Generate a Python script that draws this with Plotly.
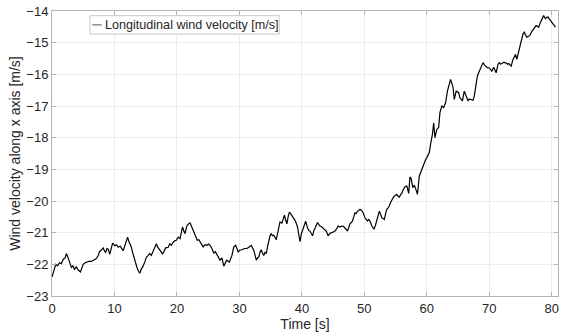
import plotly.graph_objects as go

# Time axis [s] and longitudinal wind velocity [m/s]
time_s = [
    0.0, 0.3, 0.6, 0.9, 1.2, 1.5, 1.8, 2.1, 2.3, 2.5, 2.75, 3.1, 3.35, 3.6, 3.9, 4.2, 4.55, 4.8,
    5.0, 5.3, 5.6, 6.0, 6.3, 6.7, 7.1, 7.4, 7.6, 7.9, 8.2, 8.4, 8.6, 8.8, 9.0, 9.25, 9.5, 9.7,
    10.05, 10.3, 10.6, 10.9, 11.1, 11.4, 11.6, 11.8, 12.1, 12.3, 12.45, 12.7, 12.9, 13.1, 13.3,
    13.6, 13.85, 14.05, 14.3, 14.6, 14.9, 15.1, 15.4, 15.65, 15.9, 16.2, 16.5, 16.7, 16.9, 17.2,
    17.45, 17.7, 17.95, 18.2, 18.6, 18.86, 19.1, 19.4, 19.7, 19.9, 20.2, 20.5, 20.7, 20.9, 21.1,
    21.3, 21.5, 21.64, 21.9, 22.1, 22.3, 22.5, 22.7, 22.9, 23.1, 23.25, 23.5, 23.7, 23.95, 24.2,
    24.5, 24.8, 25.05, 25.3, 25.6, 25.9, 26.15, 26.4, 26.65, 26.9, 27.2, 27.5, 27.75, 27.96,
    28.2, 28.4, 28.6, 28.8, 29.1, 29.4, 29.6, 29.8, 30.1, 30.4, 30.8, 31.2, 31.5, 31.9, 32.1,
    32.3, 32.5, 32.7, 32.9, 33.1, 33.3, 33.5, 33.7, 33.9, 34.1, 34.3, 34.5, 34.7, 34.9, 35.1,
    35.3, 35.5, 35.7, 35.9, 36.1, 36.3, 36.5, 36.8, 37.0, 37.2, 37.4, 37.6, 37.8, 38.0, 38.2,
    38.4, 38.65, 38.9, 39.1, 39.3, 39.5, 39.7, 39.9, 40.2, 40.4, 40.6, 40.9, 41.1, 41.3, 41.5,
    41.7, 41.9, 42.1, 42.3, 42.5, 42.7, 42.9, 43.2, 43.4, 43.65, 43.9, 44.2, 44.5, 44.8, 45.05,
    45.3, 45.55, 45.8, 46.1, 46.4, 46.65, 46.9, 47.1, 47.3, 47.5, 47.7, 47.9, 48.1, 48.3, 48.5,
    48.7, 48.9, 49.1, 49.3, 49.55, 49.8, 50.1, 50.3, 50.5, 50.7, 50.9, 51.2, 51.55, 51.8, 52.0,
    52.2, 52.4, 52.6, 52.8, 53.0, 53.2, 53.4, 53.6, 53.8, 54.0, 54.2, 54.4, 54.6, 54.8, 55.0,
    55.2, 55.4, 55.6, 55.8, 56.0, 56.2, 56.5, 56.8, 57.1, 57.3, 57.5, 57.75, 58.0, 58.2, 58.5,
    58.8, 59.0, 59.2, 59.4, 59.6, 59.8, 60.0, 60.2, 60.4, 60.6, 60.9, 61.1, 61.3, 61.6, 61.9,
    62.1, 62.4, 62.7, 63.0, 63.3, 63.6, 63.8, 64.0, 64.2, 64.4, 64.7, 64.9, 65.1, 65.3, 65.5,
    65.7, 66.0, 66.3, 66.6, 66.8, 67.0, 67.2, 67.4, 67.6, 67.9, 68.1, 68.3, 68.5, 68.7, 69.0,
    69.2, 69.4, 69.7, 70.0, 70.2, 70.4, 70.7, 70.9, 71.1, 71.4, 71.6, 71.8, 72.0, 72.3, 72.6,
    72.9, 73.1, 73.3, 73.5, 73.8, 74.0, 74.2, 74.4, 74.7, 74.9, 75.1, 75.2, 75.4, 75.6, 75.8,
    76.0, 76.3, 76.5, 76.8, 77.1, 77.3, 77.5, 77.7, 77.9, 78.1, 78.3, 78.5, 78.7, 78.85, 79.0,
    79.2, 79.4, 79.6, 79.8, 80.0, 80.1, 80.3, 80.6,
]
wind_velocity = [
    -22.40, -22.15, -22.00, -22.05, -21.95, -21.98, -21.84, -21.80, -21.66, -21.75, -21.92, -22.10,
    -22.05, -22.16, -22.08, -22.18, -22.24, -22.12, -22.00, -21.95, -21.92, -21.90, -21.91, -21.86,
    -21.82, -21.72, -21.60, -21.55, -21.48, -21.58, -21.62, -21.50, -21.52, -21.68, -21.45, -21.33,
    -21.41, -21.38, -21.46, -21.42, -21.48, -21.57, -21.45, -21.32, -21.14, -21.28, -21.33, -21.45,
    -21.62, -21.78, -21.92, -22.10, -22.22, -22.28, -22.15, -22.05, -21.90, -21.78, -21.72, -21.66,
    -21.72, -21.60, -21.45, -21.35, -21.45, -21.52, -21.60, -21.68, -21.55, -21.48, -21.46, -21.35,
    -21.40, -21.30, -21.25, -21.24, -21.14, -21.19, -21.00, -20.82, -20.95, -21.03, -20.85, -20.77,
    -20.72, -20.69, -20.78, -20.87, -20.98, -21.03, -21.15, -21.24, -21.22, -21.29, -21.38, -21.45,
    -21.38, -21.40, -21.36, -21.40, -21.50, -21.64, -21.60, -21.72, -21.78, -21.87, -21.80, -22.06,
    -21.95, -21.87, -21.90, -21.93, -21.82, -21.72, -21.45, -21.40, -21.50, -21.61, -21.55, -21.54,
    -21.50, -21.50, -21.46, -21.40, -21.48, -21.56, -21.70, -21.87, -21.80, -21.77, -21.62, -21.54,
    -21.65, -21.72, -21.62, -21.66, -21.45, -21.24, -21.10, -21.03, -21.10, -21.08, -21.15, -21.22,
    -21.03, -20.85, -20.66, -20.70, -20.55, -20.45, -20.60, -20.72, -20.50, -20.35, -20.40, -20.45,
    -20.52, -20.61, -20.70, -20.82, -21.05, -21.28, -21.05, -20.85, -20.75, -20.64, -20.84, -20.93,
    -20.95, -21.02, -21.10, -20.95, -20.84, -20.75, -20.68, -20.74, -20.79, -20.82, -20.86, -20.90,
    -20.95, -21.10, -21.02, -21.00, -20.97, -20.95, -20.88, -20.79, -20.82, -20.79, -20.80, -20.84,
    -20.90, -20.95, -20.82, -20.72, -20.68, -20.63, -20.50, -20.37, -20.40, -20.32, -20.30, -20.26,
    -20.30, -20.37, -20.53, -20.60, -20.63, -20.58, -20.63, -20.79, -20.89, -20.75, -20.63, -20.45,
    -20.32, -20.42, -20.53, -20.55, -20.58, -20.40, -20.26, -20.22, -20.16, -20.05, -19.95, -19.90,
    -19.84, -19.82, -19.79, -19.85, -19.88, -19.80, -19.75, -19.65, -19.55, -19.53, -19.76, -19.24,
    -19.30, -19.58, -19.50, -19.60, -19.79, -19.21, -19.10, -19.02, -18.90, -18.76, -18.70, -18.63,
    -18.55, -18.47, -18.21, -17.89, -17.53, -18.00, -17.74, -17.68, -17.21, -17.00, -17.05, -16.90,
    -16.53, -16.26, -16.16, -16.28, -16.42, -16.79, -16.53, -16.55, -16.58, -16.74, -16.80, -16.84,
    -16.53, -16.68, -16.84, -16.78, -16.79, -16.80, -16.82, -16.68, -16.21, -16.05, -15.95, -15.85,
    -15.79, -15.63, -15.70, -15.74, -15.79, -15.80, -15.84, -15.90, -15.78, -15.85, -15.95, -15.68,
    -15.63, -15.68, -15.66, -15.62, -15.63, -15.68, -15.66, -15.70, -15.74, -15.53, -15.45, -15.37,
    -15.53, -15.26, -15.10, -15.00, -14.85, -14.72, -14.67, -14.75, -14.83, -14.80, -14.77, -14.65,
    -14.56, -14.50, -14.46, -14.48, -14.51, -14.40, -14.30, -14.22, -14.14, -14.20, -14.24, -14.20,
    -14.19, -14.25, -14.30, -14.33, -14.35, -14.42, -14.51,
]

x_ticks = [0, 10, 20, 30, 40, 50, 60, 70, 80]
y_ticks = [-23, -22, -21, -20, -19, -18, -17, -16, -15, -14]

series_name = "Longitudinal wind velocity [m/s]"
x_title = "Time [s]"
y_title = "Wind velocity along x axis [m/s]"

FONT = "Liberation Sans, Arial, Helvetica, sans-serif"
AXIS_GREY = "#b4b4b4"
GRID = "#ececec"
TEXT = "#262626"

fig = go.Figure()
fig.add_trace(go.Scatter(
    x=time_s, y=wind_velocity, mode="lines", name=series_name,
    line=dict(color="black", width=1.2), showlegend=False,
))

axis_common = dict(
    showgrid=True, gridcolor=GRID, gridwidth=1,
    showline=True, linecolor=AXIS_GREY, linewidth=1, mirror="ticks",
    ticks="inside", ticklen=4, tickcolor=AXIS_GREY, tickwidth=1,
    zeroline=False,
    tickfont=dict(family=FONT, size=13, color=TEXT),
)

fig.update_xaxes(range=[0, 81], tickvals=x_ticks,
                 title=dict(text=x_title, font=dict(family=FONT, size=14, color=TEXT), standoff=4),
                 **axis_common)
fig.update_yaxes(range=[-23, -14], tickvals=y_ticks,
                 title=dict(text=y_title, font=dict(family=FONT, size=14, color=TEXT), standoff=2),
                 **axis_common)

# MATLAB-style legend box (compact line sample) in the upper-left corner
leg_x0, leg_x1, leg_y0, leg_y1 = 0.0751, 0.449, 0.919, 0.9835
leg_ymid = (leg_y0 + leg_y1) / 2
fig.add_shape(type="rect", xref="paper", yref="paper", x0=leg_x0, x1=leg_x1, y0=leg_y0, y1=leg_y1,
              line=dict(color="#c8c8c8", width=1), fillcolor="white", layer="above")
fig.add_shape(type="line", xref="paper", yref="paper", x0=0.0796, x1=0.0982, y0=leg_ymid, y1=leg_ymid,
              line=dict(color="#555555", width=1), layer="above")
fig.add_annotation(xref="paper", yref="paper", x=0.1000, y=leg_ymid, xanchor="left", yanchor="middle",
                   text=series_name, showarrow=False,
                   font=dict(family=FONT, size=12.6, color=TEXT))

fig.update_layout(
    width=568, height=335,
    margin=dict(l=52, r=10, t=11, b=39, autoexpand=False),
    paper_bgcolor="white", plot_bgcolor="white",
    font=dict(family=FONT, color=TEXT),
)

fig.write_html("out.html")
